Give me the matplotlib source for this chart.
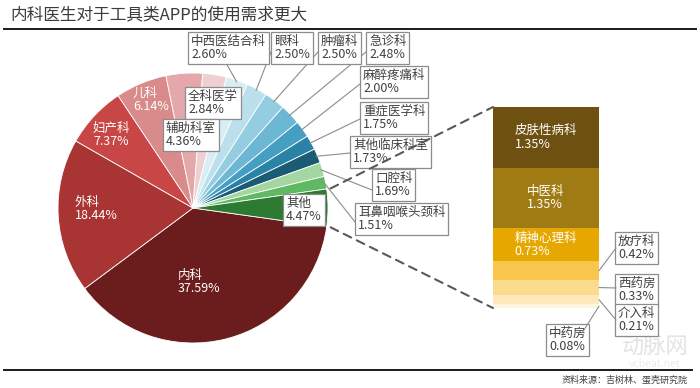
import numpy as np
import matplotlib
matplotlib.use("Agg")
import matplotlib.pyplot as plt
from matplotlib.patches import ConnectionPatch

plt.rcParams['font.family'] = ['Noto Sans CJK SC', 'DejaVu Sans']

# pie data (clockwise from 内科)
names = ['内科', '外科', '妇产科', '儿科', '辅助科室', '全科医学', '中西医结合科', '眼科',
         '肿瘤科', '急诊科', '麻醉疼痛科', '重症医学科', '其他临床科室', '口腔科',
         '耳鼻咽喉头颈科', '其他']
shares = [37.59, 18.44, 7.37, 6.14, 4.36, 2.84, 2.60, 2.50,
          2.50, 2.48, 2.00, 1.75, 1.73, 1.69, 1.51, 4.47]
pie_colors = ['#6b1c1c', '#a83434', '#c94646', '#d98a8b', '#e4a8aa', '#f0cfd0',
              '#d9eef4', '#bce0eb', '#95cde0', '#6cb8d4', '#459fc3', '#2a82a6',
              '#1b5c75', '#a3d6a1', '#5fb862', '#2d7a32']

# breakdown of 其他
sub_names = ['皮肤性病科', '中医科', '精神心理科', '放疗科', '西药房', '介入科', '中药房']
sub_shares = [1.35, 1.35, 0.73, 0.42, 0.33, 0.21, 0.08]
sub_colors = ['#6e5010', '#a07a12', '#e6a800', '#f8c64c', '#fbdb8e', '#fde9bb', '#fef5df']

W, H = 700, 388
fig = plt.figure(figsize=(7, 3.88), dpi=100)
ax = fig.add_axes([0, 0, 1, 1])

def Y(py):
    return H - py

cx, cy, R = 193, Y(208), 135
start = -8
wedges, _ = ax.pie(shares, colors=pie_colors, startangle=start, counterclock=False,
                   center=(cx, cy), radius=R,
                   wedgeprops=dict(edgecolor='white', linewidth=0.6))
ax.set_xlim(0, W)
ax.set_ylim(0, H)
ax.set_aspect('equal')
ax.axis('off')

def fmt(i):
    return '%s\n%.2f%%' % (names[i], shares[i])

def mid_point(i, rr=0.99):
    w = wedges[i]
    a = np.deg2rad((w.theta1 + w.theta2) / 2)
    return cx + R * rr * np.cos(a), cy + R * rr * np.sin(a)

# white labels inside the pie
inside = {'内科': (178, 282), '外科': (75, 209), '妇产科': (93, 135), '儿科': (133, 100)}
for nm, (px, py) in inside.items():
    i = names.index(nm)
    ax.text(px, Y(py), fmt(i), color='white', fontsize=9, ha='left', va='center',
            linespacing=1.05)

box = dict(boxstyle='square,pad=0.22', fc='white', ec='#8c8c8c', lw=0.9)
tcol = '#404040'
lcol = '#8c8c8c'

# boxed labels: text top-left, leader anchor (None = no leader)
boxed = {
    '中西医结合科': ((191, 35), (226, 63)),
    '眼科': ((274, 35), (271, 52)),
    '肿瘤科': ((321, 35), (318, 52)),
    '急诊科': ((369, 35), (366, 52)),
    '麻醉疼痛科': ((363, 69), (360, 84)),
    '重症医学科': ((363, 105), (360, 119)),
    '其他临床科室': ((353, 139), (350, 153)),
    '口腔科': ((375, 172), (372, 190)),
    '耳鼻咽喉头颈科': ((358, 206), (355, 222)),
    '其他': ((286, 197), None),
    '全科医学': ((188, 90), None),
    '辅助科室': ((166, 122), None),
}
for nm, ((px, py), anc) in boxed.items():
    i = names.index(nm)
    ax.text(px, Y(py), fmt(i), color=tcol, fontsize=9, ha='left', va='top',
            linespacing=1.0, bbox=box, zorder=5)
    if anc is not None:
        x0, y0 = mid_point(i)
        ax.plot([x0, anc[0]], [y0, Y(anc[1])], color=lcol, lw=0.8, zorder=4)

# stacked bar for 其他
bx0, by0, bw, bh = 493, 107, 106, 201
ax2 = fig.add_axes([bx0 / W, (H - by0 - bh) / H, bw / W, bh / H])
bottoms = np.concatenate([[0], np.cumsum(sub_shares)[:-1]])
ax2.bar([0] * len(sub_shares), sub_shares, bottom=bottoms, width=1.0,
        color=sub_colors, edgecolor='none')
ax2.set_xlim(-0.5, 0.5)
ax2.set_ylim(sum(sub_shares), 0)
ax2.axis('off')

for k in range(3):
    ax2.text(0, bottoms[k] + sub_shares[k] / 2, '%s\n%.2f%%' % (sub_names[k], sub_shares[k]),
             color='white', fontsize=9, ha='center', va='center', multialignment='left',
             linespacing=1.05)

sub_boxes = {'放疗科': ((618, 235), (616, 248)), '西药房': ((618, 277), (616, 288)),
             '介入科': ((618, 307), (616, 320)), '中药房': ((549, 327), (582, 333))}
for nm, ((px, py), anc) in sub_boxes.items():
    k = sub_names.index(nm)
    ax.text(px, Y(py), '%s\n%.2f%%' % (nm, sub_shares[k]), color=tcol, fontsize=9,
            ha='left', va='top', linespacing=1.0, bbox=box, zorder=5)
    con = ConnectionPatch(xyA=(0.5, bottoms[k] + sub_shares[k] / 2), coordsA='data', axesA=ax2,
                          xyB=(anc[0], Y(anc[1])), coordsB='data', axesB=ax,
                          color=lcol, lw=0.8)
    fig.add_artist(con)

# dashed lines from 其他 wedge to the bar
w = wedges[-1]
for ang, corner in [(w.theta1, (0, 0)), (w.theta2, (0, 1))]:
    a = np.deg2rad(ang)
    p = (cx + (R + 4) * np.cos(a), cy + (R + 4) * np.sin(a))
    con = ConnectionPatch(xyA=p, coordsA='data', axesA=ax, xyB=corner,
                          coordsB='axes fraction', axesB=ax2,
                          color='#595959', lw=1.5, linestyle=(0, (4, 3)))
    fig.add_artist(con)

# title, rules, source
ax.text(10, Y(15), '内科医生对于工具类APP的使用需求更大', fontsize=12, color='#3b3b3b',
        ha='left', va='center')
ax.plot([4, 696], [Y(29), Y(29)], color='#1a1a1a', lw=1.4)
ax.plot([4, 692], [Y(370), Y(370)], color='#1a1a1a', lw=1.4)
ax.text(688, Y(380), '资料来源：吉树林、蛋壳研究院', fontsize=6.5, color='#404040',
        ha='right', va='center', style='italic')
ax.text(655, Y(347), '动脉网', fontsize=16, color='#e3e3e3', ha='center', va='center',
        zorder=0)
ax.text(655, Y(364), 'vcbeat.net', fontsize=7.5, color='#ebebeb', ha='center', va='center',
        zorder=0)

plt.savefig('out.png', dpi=100)
